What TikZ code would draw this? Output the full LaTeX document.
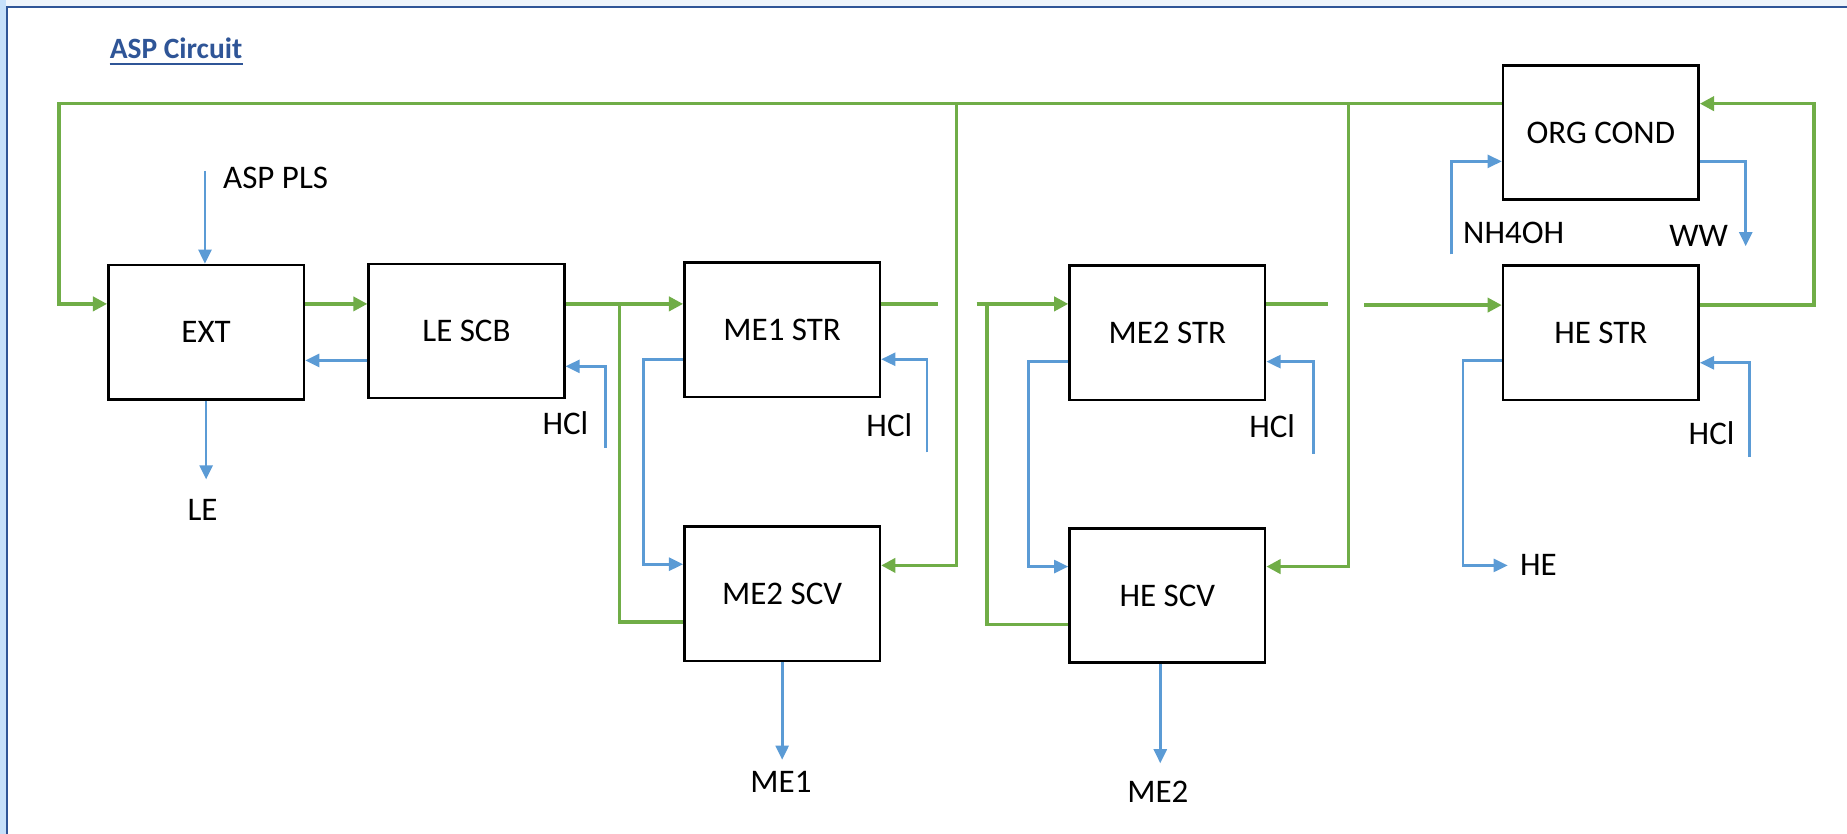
\documentclass[tikz,border=0pt]{standalone}
\usepackage{fontspec}
\setmainfont{Carlito}
\usetikzlibrary{arrows.meta}
\definecolor{gcol}{HTML}{70AD47}
\definecolor{bcol}{HTML}{5B9BD5}
\definecolor{tcol}{HTML}{2F5597}
\definecolor{bgtop}{HTML}{EEF4FB}
\definecolor{bgleft}{HTML}{C6E0FA}
\begin{document}
\begin{tikzpicture}[x=1pt,y=-1pt,line join=miter,
  unit/.style={draw=black,line width=2.2pt,fill=white,minimum width=166pt,minimum height=114pt,inner sep=0pt,font=\fontsize{28}{34}\selectfont},
  lbl/.style={inner sep=0pt,font=\fontsize{28}{34}\selectfont},
  gline/.style={draw=gcol,line width=2.9pt},
  bline/.style={draw=bcol,line width=2.3pt},
  garr/.style={gline,-{Triangle[length=12pt,width=12pt]}},
  barr/.style={bline,-{Triangle[length=12pt,width=11pt]}}]
\useasboundingbox (0,0) rectangle (1568,708);
% page background and frame
\fill[bgtop] (0,0) rectangle (1568,708);
\fill[bgleft] (0,0) rectangle (5,708);
\fill[white] (7,7) rectangle (1568,708);
\draw[tcol,line width=2.4pt] (6,708) -- (6,6) -- (1568,6);
% title
\node[anchor=base west,inner sep=0pt,text=tcol,font=\fontsize{25}{30}\selectfont\bfseries] (title) at (93,50) {ASP Circuit};
\draw[tcol,line width=1.6pt] (title.base west) ++(0,4.5) -- ++(113,0);
% units
\node[unit] (ext)    at (175,282)  {EXT};
\node[unit] (lescb)  at (396,281)  {LE SCB};
\node[unit] (me1str) at (664,280)  {ME1 STR};
\node[unit] (me2scv) at (664,504)  {ME2 SCV};
\node[unit] (me2str) at (991,282.5) {ME2 STR};
\node[unit] (hescv)  at (991,505.5) {HE SCV};
\node[unit] (org)    at (1359,112.5) {ORG COND};
\node[unit] (hestr)  at (1359,282.5) {HE STR};
% labels
\node[lbl] (lpls) at (234,151) {ASP PLS};
\node[lbl] (lle)  at (172,433) {LE};
\node[lbl] (lh1)  at (480,359) {HCl};
\node[lbl] (lh2)  at (755,361) {HCl};
\node[lbl] (lh3)  at (1080,362) {HCl};
\node[lbl] (lh4)  at (1453,368) {HCl};
\node[lbl] (lnh)  at (1285,198) {NH4OH};
\node[lbl] (lww)  at (1442,200) {WW};
\node[lbl] (lhe)  at (1306,480) {HE};
\node[lbl] (lme1) at (663,664) {ME1};
\node[lbl] (lme2) at (983,672) {ME2};
% free ends
\coordinate (plsin) at (174,145);
\coordinate (leout) at (175,407);
\coordinate (h1in) at (514,380);
\coordinate (h2in) at (787,384);
\coordinate (h3in) at (1115,385);
\coordinate (h4in) at (1485,388);
\coordinate (nhin) at (1232,216);
\coordinate (wwout) at (1482,209);
\coordinate (heout) at (1280,480);
\coordinate (me1out) at (664,645);
\coordinate (me2out) at (985,648);
% green organic lines
\draw[garr] (org.west |- 0,88) -- (50,88) -- (50,258) -- (ext.west |- 0,258);
\draw[garr] (812,88) -- (812,480) -- (me2scv.east |- 0,480);
\draw[garr] (1145,88) -- (1145,481) -- (hescv.east |- 0,481);
\draw[garr] (ext.east |- 0,258) -- (lescb.west |- 0,258);
\draw[garr] (lescb.east |- 0,258) -- (me1str.west |- 0,258);
\draw[gline] (me2scv.west |- 0,528) -- (526,528) -- (526,258);
\draw[gline] (me1str.east |- 0,258) -- (796,258);
\draw[garr] (829,258) -- (me2str.west |- 0,258);
\draw[gline] (hescv.west |- 0,530) -- (838,530) -- (838,258);
\draw[gline] (me2str.east |- 0,258) -- (1127,258);
\draw[garr] (1158,259) -- (hestr.west |- 0,259);
\draw[garr] (hestr.east |- 0,259) -- (1540,259) -- (1540,88) -- (org.east |- 0,88);
% blue aqueous lines
\draw[barr] (plsin) -- (ext.north -| plsin);
\draw[barr] (ext.south -| leout) -- (leout);
\draw[barr] (lescb.west |- 0,306) -- (ext.east |- 0,306);
\draw[barr] (h1in) -- (514,311) -- (lescb.east |- 0,311);
\draw[barr] (me1str.west |- 0,305) -- (546,305) -- (546,479) -- (me2scv.west |- 0,479);
\draw[barr] (h2in) -- (787,305) -- (me1str.east |- 0,305);
\draw[barr] (me2str.west |- 0,307) -- (873,307) -- (873,481) -- (hescv.west |- 0,481);
\draw[barr] (h3in) -- (1115,307) -- (me2str.east |- 0,307);
\draw[barr] (hestr.west |- 0,306) -- (1242,306) -- (1242,480) -- (heout);
\draw[barr] (h4in) -- (1485,308) -- (hestr.east |- 0,308);
\draw[barr] (nhin) -- (1232,137) -- (org.west |- 0,137);
\draw[barr] (org.east |- 0,137) -- (1482,137) -- (wwout);
\draw[barr] (me2scv.south) -- (me1out);
\draw[barr] (hescv.south -| me2out) -- (me2out);
\end{tikzpicture}
\end{document}
